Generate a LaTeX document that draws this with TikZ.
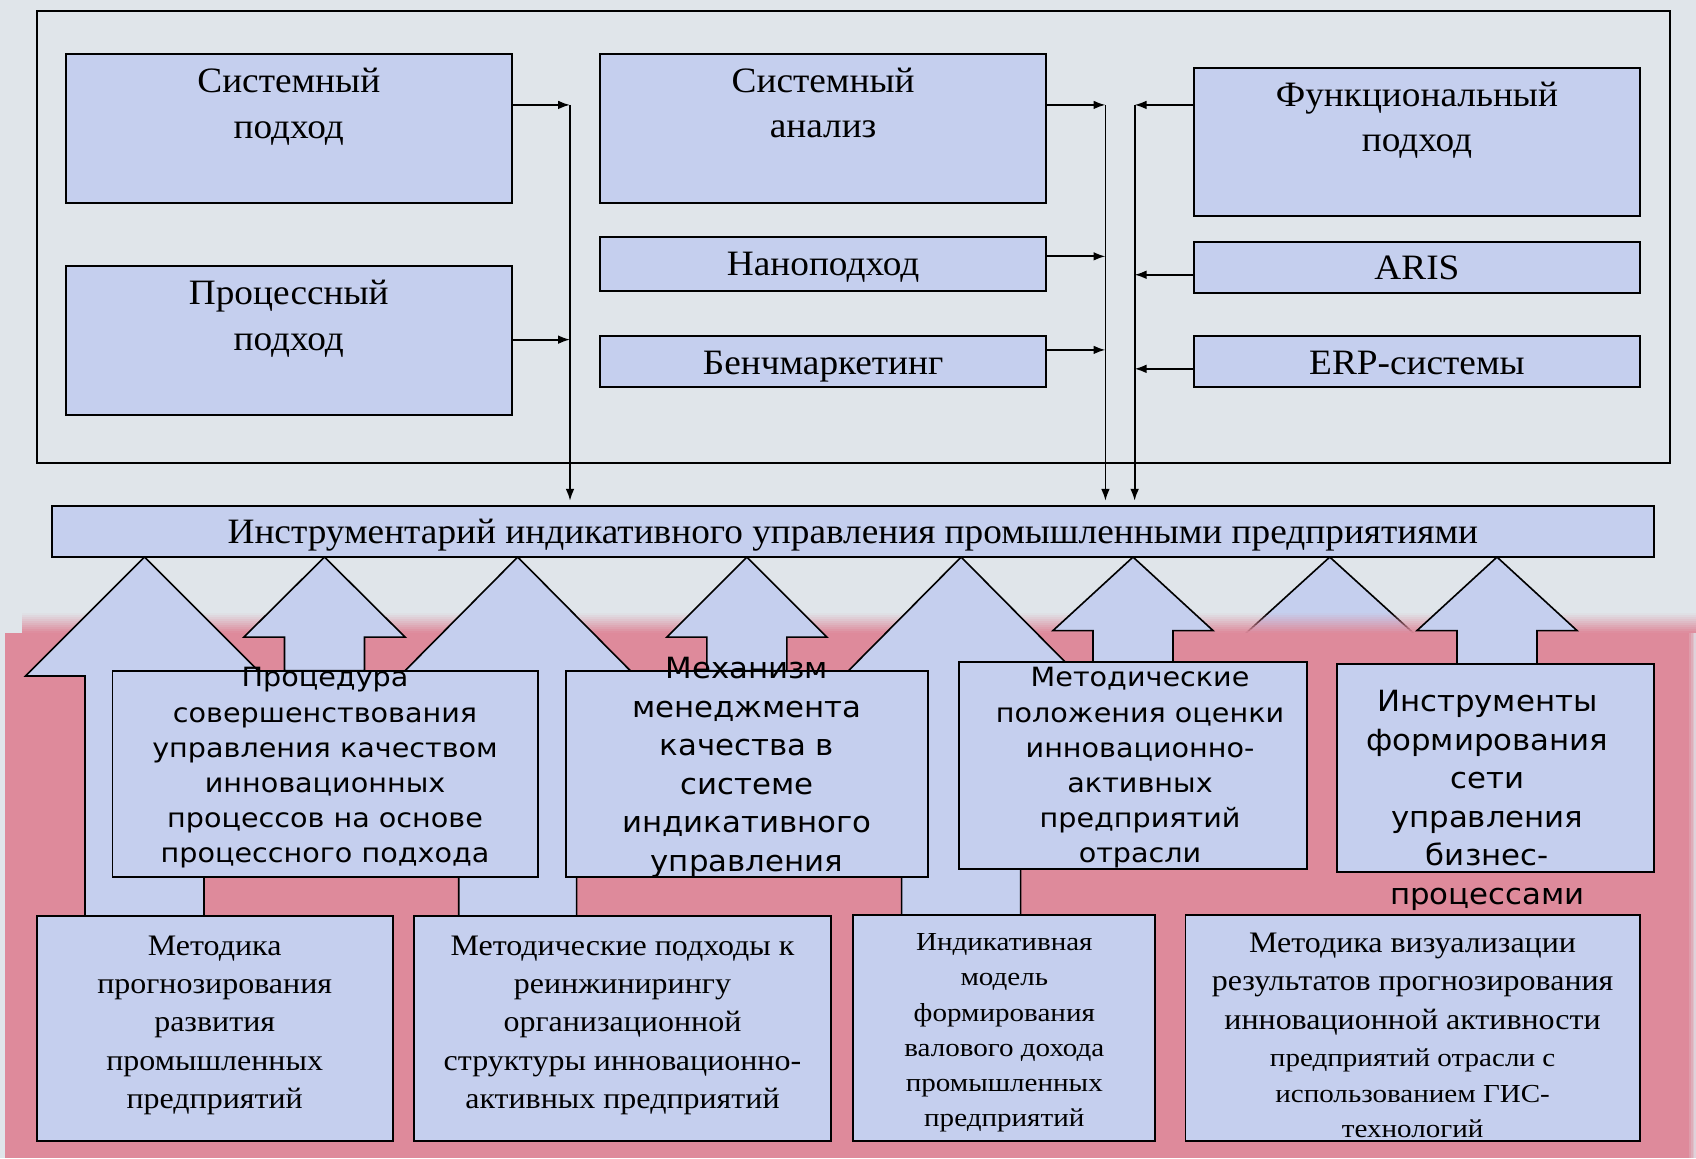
\documentclass[tikz,border=0pt]{standalone}
\usepackage{fontspec}
\setmainfont{Liberation Serif}
\newfontfamily\serA[FakeStretch=1.045]{Liberation Serif}
\newfontfamily\serB[FakeStretch=1.075]{Liberation Serif}
\newfontfamily\serC[FakeStretch=1.12]{Liberation Serif}
\newfontfamily\sanA[FakeStretch=1.08]{DejaVu Sans}
\newfontfamily\sanB[FakeStretch=1.055]{DejaVu Sans}
\usetikzlibrary{arrows.meta}
\definecolor{bgc}{RGB}{224,229,234}
\definecolor{boxc}{RGB}{197,207,238}
\definecolor{pinkc}{RGB}{222,138,155}
\newcommand\BlockUp[6]{%
  \filldraw[barrow] (#1,#2) -- (#1+#3,#4) -- (#1+#5,#4) -- (#1+#5,#6) -- (#1-#5,#6) -- (#1-#5,#4) -- (#1-#3,#4) -- cycle;}
\begin{document}
\begin{tikzpicture}[x=1pt,y=-1pt,
  box/.style={draw=black, fill=boxc, line width=1.8pt, inner sep=0pt, outer sep=0pt, rectangle},
  barrow/.style={draw=black, fill=boxc, line width=1.5pt, line join=miter},
  conn/.style={line width=1.6pt, -{Latex[length=11pt,width=8pt]}},
  tbig/.style={align=center, inner sep=0pt, font=\serA\fontsize{33}{42}\selectfont},
  tmain/.style={align=center, inner sep=0pt, font=\serA\fontsize{33}{40}\selectfont},
  tlow/.style={align=center, inner sep=0pt, font=\serB\fontsize{27.5}{35.5}\selectfont},
  tlows/.style={align=center, inner sep=0pt, font=\serC\fontsize{24}{32.5}\selectfont},
  sans/.style={align=center, inner sep=0pt, font=\sanA\fontsize{24.5}{32.5}\selectfont},
  sansb/.style={align=center, inner sep=0pt, font=\sanB\fontsize{27}{35.7}\selectfont}]
\fill[bgc] (0,0) rectangle (1568,1071);
\useasboundingbox (0,0) rectangle (1568,1071);
% outer frame
\draw[line width=1.8pt] (34,10) rectangle (1544,428);
% hidden arrow behind pink area
\BlockUp{1229.4}{515}{110}{615}{55}{846}
% pink area
\fill[pinkc] (5,585.6) rectangle (1561.6,1071);
\foreach \i in {0,...,9}{
  \fill[pinkc, opacity={(\i+0.5)/10}] (20,{567+\i*1.86}) rectangle (1568,{567+(\i+1)*1.86});
}
\foreach \i in {0,...,3}{
  \fill[pinkc, opacity={0.8-\i*0.2}] ({1561.6+\i*1.6},585.6) rectangle ({1561.6+(\i+1)*1.6},1071);
}
% block arrows
\BlockUp{133.6}{515}{110}{625}{55}{847}
\BlockUp{300}{515}{74.5}{589}{37}{620}
\BlockUp{478.6}{515}{110}{626}{54.5}{847}
\BlockUp{690.5}{515}{74}{589}{37}{620}
\BlockUp{888.6}{515}{110}{626}{55}{846}
\BlockUp{1047.5}{515}{74}{583}{37}{612}
\BlockUp{1384}{515}{74}{583}{37}{614}
% top boxes
\node[box, minimum width=412pt, minimum height=138pt] (sp) at (267,119) {};
\node[tbig] (spt) at (267,98.5) {Системный\\подход};
\node[box, minimum width=412pt, minimum height=138pt] (pp) at (267,315) {};
\node[tbig] (ppt) at (267,294.5) {Процессный\\подход};
\node[box, minimum width=412pt, minimum height=138pt] (sa) at (761,119) {};
\node[tbig] (sat) at (761,95) {Системный\\анализ};
\node[box, minimum width=412pt, minimum height=50pt] (nano) at (761,244) {};
\node[tbig] (nanot) at (761,247) {Наноподход};
\node[box, minimum width=412pt, minimum height=47pt] (bench) at (761,334.5) {};
\node[tbig] (bencht) at (761,339) {Бенчмаркетинг};
\node[box, minimum width=412pt, minimum height=137pt] (fp) at (1310,131.5) {};
\node[tbig] (fpt) at (1310,111) {Функциональный\\подход};
\node[box, minimum width=412pt, minimum height=47pt] (aris) at (1310,247.5) {};
\node[tbig] (arist) at (1310,247.5) {ARIS};
\node[box, minimum width=412pt, minimum height=47pt] (erp) at (1310,334.5) {};
\node[tbig] (erpt) at (1310,336) {ERP-системы};
% main box
\node[box, minimum width=1481pt, minimum height=47pt] (main) at (788.5,491.5) {};
\node[tmain] (maint) at (788.5,494.5) {Инструментарий индикативного управления промышленными предприятиями};
% middle boxes
\node[box, minimum width=393pt, minimum height=191pt] (proc) at (300.5,715.5) {};
\node[sans] (proct) at (300.5,710) {Процедура\\совершенствования\\управления качеством\\инновационных\\процессов на основе\\процессного подхода};
\node[box, minimum width=335pt, minimum height=191pt] (mech) at (690.5,715.5) {};
\node[sansb] (mecht) at (690.5,709.5) {Механизм\\менеджмента\\качества в\\системе\\индикативного\\управления};
\node[box, minimum width=321pt, minimum height=191pt] (met) at (1047.5,707.5) {};
\node[sans] (mett) at (1054,710) {Методические\\положения оценки\\инновационно-\\активных\\предприятий\\отрасли};
\node[box, minimum width=293pt, minimum height=192pt] (inst) at (1382.5,710) {};
\node[sansb] (instt) at (1375,740) {Инструменты\\формирования\\сети\\управления\\бизнес-\\процессами};
% bottom boxes
\node[box, minimum width=329pt, minimum height=208pt] (b1) at (198.5,951) {};
\node[tlow] (b1t) at (198.5,948) {Методика\\прогнозирования\\развития\\промышленных\\предприятий};
\node[box, minimum width=385pt, minimum height=208pt] (b2) at (575.5,951) {};
\node[tlow] (b2t) at (575.5,948) {Методические подходы к\\реинжинирингу\\организационной\\структуры инновационно-\\активных предприятий};
\node[box, minimum width=279pt, minimum height=209pt] (b3) at (928.5,950.5) {};
\node[tlows] (b3t) at (928.5,955) {Индикативная\\модель\\формирования\\валового дохода\\промышленных\\предприятий};
\node[box, minimum width=420pt, minimum height=209pt] (b4) at (1306,950.5) {};
\node[tlows] (b4t) at (1306,957) {{\serB\fontsize{27.5}{35.5}\selectfont Методика визуализации}\\[3pt]{\serB\fontsize{27.5}{35.5}\selectfont результатов прогнозирования}\\[3pt]{\serB\fontsize{27.5}{35.5}\selectfont инновационной активности}\\[2.5pt]предприятий отрасли с\\использованием ГИС-\\технологий};
% connectors
\coordinate (v1) at (527,97);
\coordinate (v2) at (1022,97);
\coordinate (v3) at (1049,97);
\draw[conn] (sp.east |- v1) -- (v1);
\draw[conn] ([yshift=1pt]pp.east) -- ([yshift=1pt]pp.east -| v1);
\draw[conn, shorten >=5pt] (v1) -- (v1 |- main.north);
\draw[conn] (sa.east |- v2) -- (v2);
\draw[conn] ([yshift=7pt]nano.east) -- ([yshift=7pt]nano.east -| v2);
\draw[conn] ([yshift=11pt]bench.east) -- ([yshift=11pt]bench.east -| v2);
\draw[conn, shorten >=5pt] (v2) -- (v2 |- main.north);
\draw[conn] (fp.west |- v3) -- (v3);
\draw[conn] ([yshift=-6.5pt]aris.west) -- ([yshift=-6.5pt]aris.west -| v3);
\draw[conn] ([yshift=-6.5pt]erp.west) -- ([yshift=-6.5pt]erp.west -| v3);
\draw[conn, shorten >=5pt] (v3) -- (v3 |- main.north);
\end{tikzpicture}
\end{document}
